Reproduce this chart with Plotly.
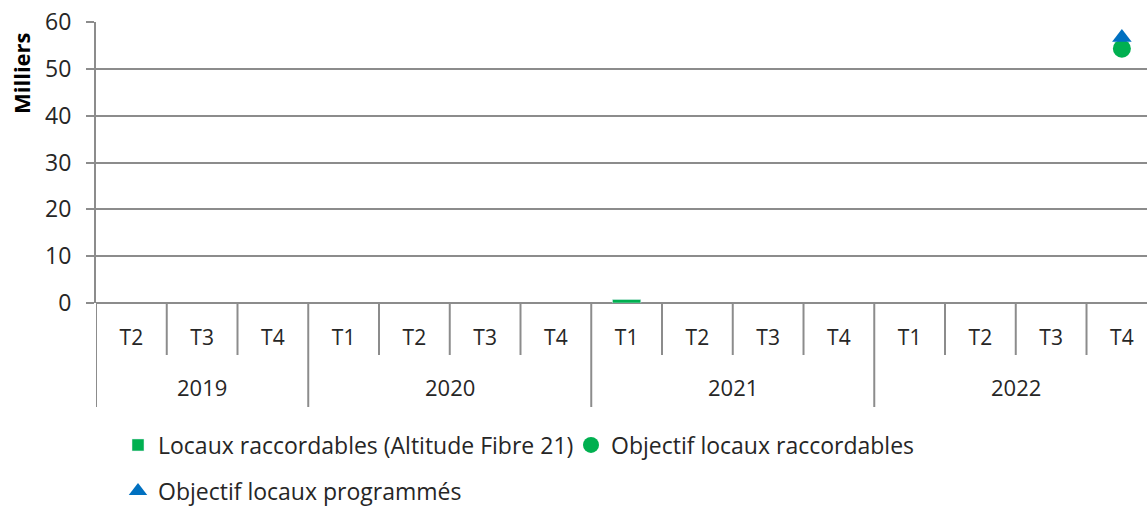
import plotly.graph_objects as go

years = ["2019", "2020", "2021", "2022"]
quarters_per_year = [["T2", "T3", "T4"], ["T1", "T2", "T3", "T4"],
                     ["T1", "T2", "T3", "T4"], ["T1", "T2", "T3", "T4"]]
quarters = [q for qs in quarters_per_year for q in qs]
x_idx = list(range(len(quarters)))

raccordables = [None, None, None, None, None, None, None, 0.75,
                None, None, None, None, None, None, None]
obj_raccordables = [None] * 14 + [54.3]
obj_programmes = [None] * 14 + [56.7]

FONT = "Open Sans"
TXT = "#262626"
GRID = "#8C8C8C"
PH = 281  # plot height in px
PW = 1051

fig = go.Figure()
fig.add_trace(go.Bar(x=x_idx, y=raccordables, width=0.4, marker_color="#00B050",
                     name="Locaux raccordables (Altitude Fibre 21)", legend="legend"))
fig.add_trace(go.Scatter(x=x_idx, y=obj_raccordables, mode="markers",
                         marker=dict(symbol="circle", size=18, color="#00B050"),
                         name="Objectif locaux raccordables", legend="legend2"))
fig.add_trace(go.Scatter(x=x_idx, y=obj_programmes, mode="markers",
                         marker=dict(symbol="triangle-up", size=17, color="#0070C0"),
                         name="Objectif locaux programmés", legend="legend3"))

shapes = []
pos = 0
year_bounds = [0]
for qs in quarters_per_year:
    pos += len(qs)
    year_bounds.append(pos)
for b in range(len(quarters) + 1):
    is_year = b in year_bounds
    shapes.append(dict(type="line", xref="x", yref="paper",
                       x0=b - 0.5, x1=b - 0.5, y0=0,
                       y1=-104 / PH if is_year else -52 / PH,
                       line=dict(color=GRID, width=2)))

annotations = []
for i, y in enumerate(years):
    center = (year_bounds[i] + year_bounds[i + 1] - 1) / 2
    annotations.append(dict(x=center, y=-84 / PH, xref="x", yref="paper",
                            text=y, showarrow=False, yanchor="middle",
                            font=dict(family=FONT, size=22, color=TXT)))
annotations.append(dict(x=-75 / PW, y=1 - 51 / PH, xref="paper", yref="paper",
                        text="<b>Milliers</b>", textangle=-90, showarrow=False,
                        xanchor="center", yanchor="middle", borderpad=0,
                        font=dict(family=FONT, size=22, color="#000000")))

leg_font = dict(family=FONT, size=23, color=TXT)
fig.update_layout(
    width=1147, height=506,
    margin=dict(l=96, r=0, t=22, b=203, autoexpand=False),
    plot_bgcolor="white", paper_bgcolor="white",
    font=dict(family=FONT, size=22, color=TXT),
    shapes=shapes, annotations=annotations,
    showlegend=True,
    legend=dict(x=22 / PW, y=-142 / PH, xanchor="left", yanchor="middle",
                orientation="h", font=leg_font, bgcolor="rgba(0,0,0,0)"),
    legend2=dict(x=475 / PW, y=-142 / PH, xanchor="left", yanchor="middle",
                 orientation="h", font=leg_font, bgcolor="rgba(0,0,0,0)"),
    legend3=dict(x=22 / PW, y=-188 / PH, xanchor="left", yanchor="middle",
                 orientation="h", font=leg_font, bgcolor="rgba(0,0,0,0)"),
    xaxis=dict(range=[-0.5, 14.355], tickmode="array", tickvals=x_idx, ticktext=quarters,
               showgrid=False, zeroline=False, showline=False, ticks="",
               automargin=False,
               ticklabelstandoff=20, tickfont=dict(family=FONT, size=21, color=TXT)),
    yaxis=dict(range=[0, 60], dtick=10, showgrid=True, gridcolor=GRID, gridwidth=2,
               zeroline=True, zerolinecolor=GRID, zerolinewidth=2,
               showline=True, linecolor=GRID, linewidth=2, automargin=False,
               ticks="outside", ticklen=8, tickcolor=GRID, tickwidth=2,
               ticklabelstandoff=10, ticklabeloverflow="allow",
               tickfont=dict(family=FONT, size=23, color=TXT)),
)
fig.write_html("out.html", config={"displayModeBar": False},
               post_script="document.body.style.margin='0';document.body.style.overflow='hidden';")
